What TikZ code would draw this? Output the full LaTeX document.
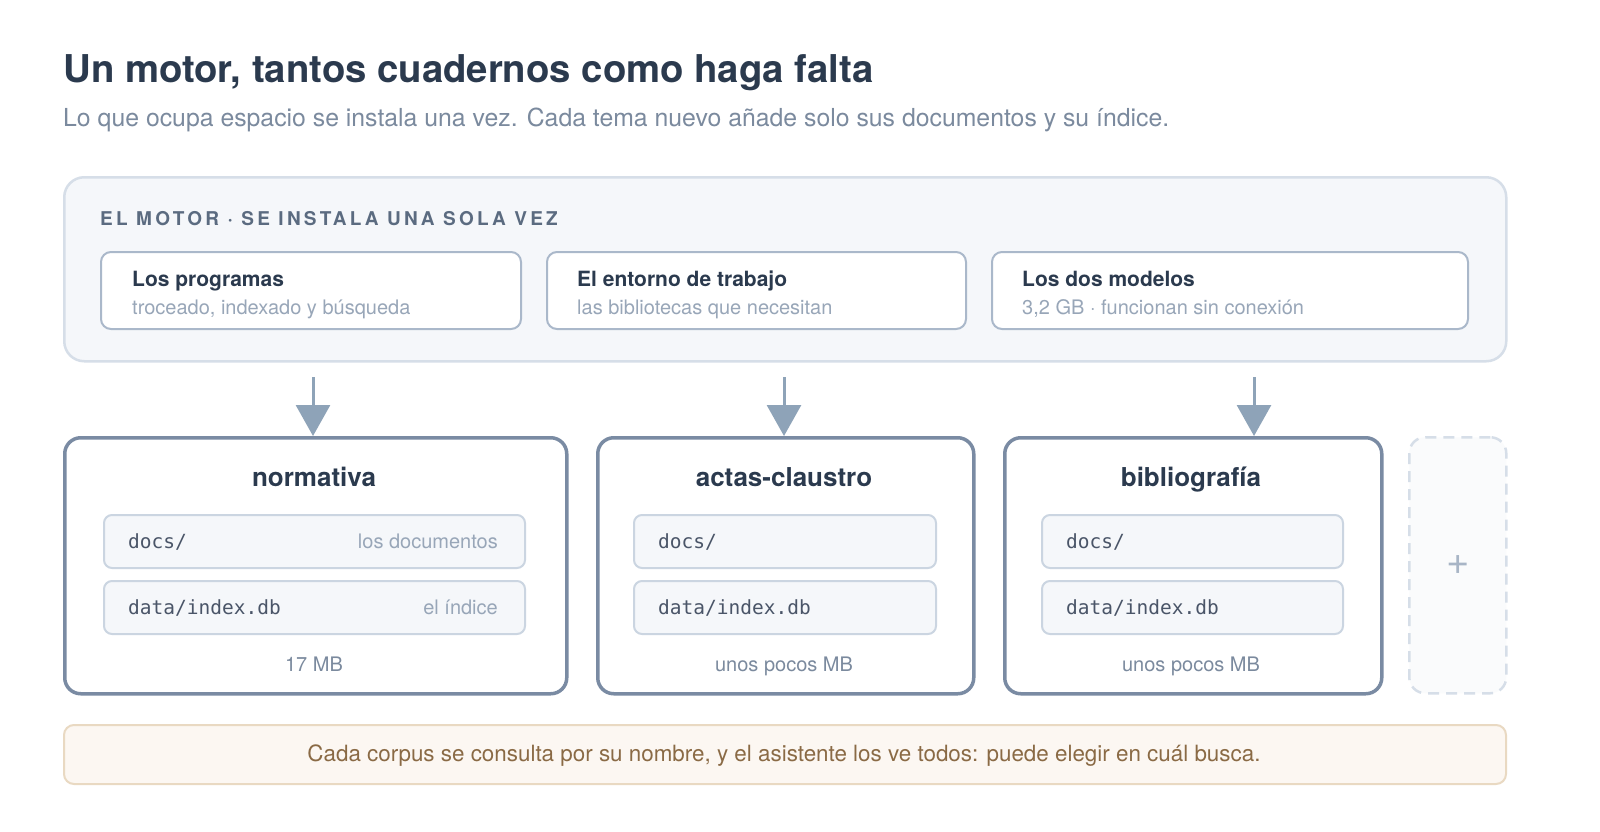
\documentclass[tikz,border=0pt]{standalone}
\usepackage{fontspec}
\setmainfont{TeX Gyre Heros}
\setmonofont{DejaVu Sans Mono}
\usetikzlibrary{arrows.meta}
\definecolor{ink}{HTML}{2B3A4E}
\definecolor{sub}{HTML}{7B8A9E}
\definecolor{lbl}{HTML}{5B6B80}
\definecolor{faint}{HTML}{98A6B8}
\definecolor{panel}{HTML}{F5F7FA}
\definecolor{panelline}{HTML}{D6DEE8}
\definecolor{cardline}{HTML}{AAB8CA}
\definecolor{corpline}{HTML}{7A8BA3}
\definecolor{rowline}{HTML}{CBD5E1}
\definecolor{mono}{HTML}{4A5568}
\definecolor{arrowc}{HTML}{8EA3B8}
\definecolor{plusc}{HTML}{A8B5C6}
\definecolor{noteb}{HTML}{FCF7F2}
\definecolor{notel}{HTML}{E9D9C2}
\definecolor{notet}{HTML}{8A6A45}
\tikzset{
  panelbox/.style={draw=panelline, line width=2.5pt, fill=panel, rounded corners=20pt, anchor=north west, inner sep=0pt},
  cardbox/.style={draw=cardline, line width=2pt, fill=white, rounded corners=10pt, anchor=north west, inner sep=0pt, minimum height=77pt},
  corpbox/.style={draw=corpline, line width=3.5pt, fill=white, rounded corners=16pt, anchor=north west, inner sep=0pt, minimum height=256pt},
  rowbox/.style={draw=rowline, line width=2pt, fill=panel, rounded corners=8pt, anchor=north west, inner sep=0pt, minimum height=53pt},
  addbox/.style={draw=panelline, line width=2.5pt, dash pattern=on 11pt off 7pt, fill=panel!50, rounded corners=16pt, anchor=north west, inner sep=0pt, minimum height=256pt, minimum width=97pt},
  notebox/.style={draw=notel, line width=2pt, fill=noteb, rounded corners=10pt, anchor=north west, inner sep=0pt, minimum height=59pt, minimum width=1442pt},
  cardtitle/.style={anchor=base west, inner sep=0pt, text=ink, font=\fontsize{21}{24}\selectfont\bfseries},
  cardsub/.style={anchor=base west, inner sep=0pt, text=faint, font=\fontsize{20}{22}\selectfont},
  corptitle/.style={anchor=base, inner sep=0pt, text=ink, font=\fontsize{26}{28}\selectfont\bfseries},
  monotxt/.style={anchor=base west, inner sep=0pt, text=mono, font=\fontsize{19.5}{22}\ttfamily},
  rowlabel/.style={anchor=base east, inner sep=0pt, text=faint, font=\fontsize{20}{22}\selectfont},
  sizetxt/.style={anchor=base, inner sep=0pt, text=sub, font=\fontsize{20}{22}\selectfont},
  flow/.style={draw=arrowc, line width=3pt, -{Triangle[width=34pt,length=31pt]}, arrowc},
}
\begin{document}
\begin{tikzpicture}[x=1pt,y=-1pt]
\useasboundingbox (0,0) rectangle (1600,832);
\fill[white] (0,0) rectangle (1600,832);
% heading
\node[anchor=base west, inner sep=0pt, text=ink, font=\fontsize{38.3}{40}\selectfont\bfseries] (title) at (63,83) {Un motor, tantos cuadernos como haga falta};
\node[anchor=base west, inner sep=0pt, text=sub, font=\fontsize{24.8}{26}\selectfont] (subtitle) at (63,127) {Lo que ocupa espacio se instala una vez. Cada tema nuevo añade solo sus documentos y su índice.};
% engine panel
\node[panelbox, minimum width=1442pt, minimum height=184pt] (engine) at (63,176) {};
\node[anchor=base west, inner sep=0pt, text=lbl, font=\fontsize{19}{22}\selectfont\bfseries\addfontfeature{LetterSpace=17}] (englabel) at (100,225) {EL MOTOR · SE INSTALA UNA SOLA VEZ};
\node[cardbox, minimum width=420pt] (c1) at (100,251) {};
\node[cardbox, minimum width=419pt] (c2) at (546,251) {};
\node[cardbox, minimum width=476pt] (c3) at (991,251) {};
\node[cardtitle] (c1t) at (132,286) {Los programas};
\node[cardsub] (c1s) at (132,314) {troceado, indexado y búsqueda};
\node[cardtitle] (c2t) at (577,286) {El entorno de trabajo};
\node[cardsub] (c2s) at (577,314) {las bibliotecas que necesitan};
\node[cardtitle] (c3t) at (1022,286) {Los dos modelos};
\node[cardsub] (c3s) at (1022,314) {3,2 GB · funcionan sin conexión};
% corpus boxes
\node[corpbox, minimum width=502pt] (k1) at (63,436) {};
\node[corpbox, minimum width=376pt] (k2) at (596,436) {};
\node[corpbox, minimum width=377pt] (k3) at (1003,436) {};
\node[addbox] (k4) at (1408,436) {};
\node[text=plusc, font=\fontsize{40}{40}\selectfont, inner sep=0pt] (plus) at (k4.center) {+};
% arrows
\coordinate (a1) at (313,377);
\coordinate (a2) at (784,377);
\coordinate (a3) at (1254,377);
\draw[flow] (a1) -- (a1 |- k1.north);
\draw[flow] (a2) -- (a2 |- k2.north);
\draw[flow] (a3) -- (a3 |- k3.north);
% box 1
\node[corptitle] (k1t) at (314,486) {normativa};
\node[rowbox, minimum width=421pt] (k1r1) at (103,514) {};
\node[rowbox, minimum width=421pt] (k1r2) at (103,580) {};
\node[monotxt] (k1m1) at (128,548) {docs/};
\node[rowlabel] (k1l1) at (498,548) {los documentos};
\node[monotxt] (k1m2) at (128,614) {data/index.db};
\node[rowlabel] (k1l2) at (498,614) {el índice};
\node[sizetxt] (k1s) at (314,671) {17 MB};
% box 2
\node[corptitle] (k2t) at (784,486) {actas-claustro};
\node[rowbox, minimum width=302pt] (k2r1) at (633,514) {};
\node[rowbox, minimum width=302pt] (k2r2) at (633,580) {};
\node[monotxt] (k2m1) at (658,548) {docs/};
\node[monotxt] (k2m2) at (658,614) {data/index.db};
\node[sizetxt] (k2s) at (784,671) {unos pocos MB};
% box 3
\node[corptitle] (k3t) at (1191,486) {bibliografía};
\node[rowbox, minimum width=301pt] (k3r1) at (1041,514) {};
\node[rowbox, minimum width=301pt] (k3r2) at (1041,580) {};
\node[monotxt] (k3m1) at (1066,548) {docs/};
\node[monotxt] (k3m2) at (1066,614) {data/index.db};
\node[sizetxt] (k3s) at (1191,671) {unos pocos MB};
% note
\node[notebox] (note) at (63,724) {};
\node[anchor=base, text=notet, font=\fontsize{22.4}{24}\selectfont, inner sep=0pt] (notet) at (784,761) {Cada corpus se consulta por su nombre, y el asistente los ve todos: puede elegir en cuál busca.};
\end{tikzpicture}
\end{document}
